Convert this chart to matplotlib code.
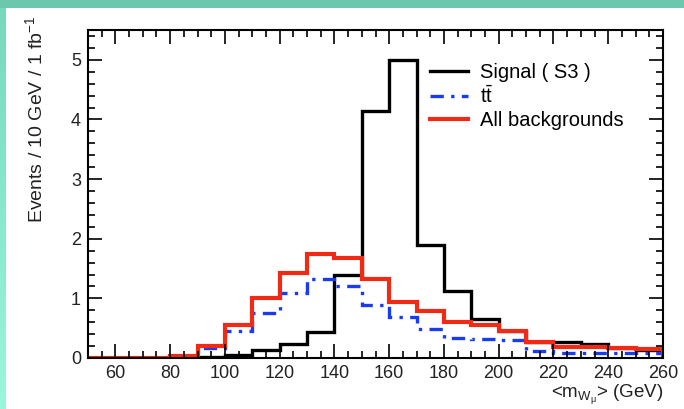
import numpy as np
import matplotlib
matplotlib.use('Agg')
import matplotlib.pyplot as plt
from matplotlib.ticker import MultipleLocator

plt.rcParams['font.family'] = ['Liberation Sans', 'DejaVu Sans']
plt.rcParams['mathtext.fontset'] = 'custom'
plt.rcParams['mathtext.rm'] = 'Liberation Sans'
plt.rcParams['mathtext.it'] = 'Liberation Sans'

## Data : 10 GeV bins from 50 to 260 GeV
edges = np.arange(50, 261, 10)
signal = [0, 0, 0, 0, 0.02, 0.05, 0.13, 0.24, 0.43, 1.40, 4.15, 5.0, 1.90,
          1.13, 0.65, 0.45, 0.27, 0.27, 0.23, 0.17, 0.13]
ttbar = [0, 0, 0, 0.03, 0.16, 0.46, 0.76, 1.09, 1.32, 1.21, 0.89, 0.68, 0.48,
         0.33, 0.32, 0.30, 0.12, 0.09, 0.08, 0.08, 0.08]
allbkg = [0, 0, 0, 0.03, 0.20, 0.55, 1.01, 1.43, 1.74, 1.67, 1.32, 0.94, 0.79,
          0.61, 0.56, 0.45, 0.27, 0.19, 0.18, 0.16, 0.15]
labels = ['Signal ( S3 )', r't$\bar{\rm t}$', 'All backgrounds']

fig = plt.figure(figsize=(6.84, 4.09), dpi=100)

# teal frame of the slide
top = fig.add_axes([0, 1 - 8/409, 1, 8/409])
top.set_axis_off()
top.add_patch(plt.Rectangle((0, 0), 1, 1, color='#6cc8ac', transform=top.transAxes))
side = fig.add_axes([0, 0, 6/684, 1 - 8/409])
grad = np.linspace(0, 1, 100).reshape(-1, 1)
cmap = matplotlib.colors.LinearSegmentedColormap.from_list('mint', ['#9af6dc', '#78d8bc'])
side.imshow(grad, aspect='auto', cmap=cmap, origin='lower', extent=[0, 1, 0, 1])
side.set_axis_off()

ax = fig.add_axes([88/684, 51/409, 575/684, 328/409])

ax.stairs(signal, edges, color='black', lw=2.4, label=labels[0])
ax.stairs(ttbar, edges, color='#1a3cf0', lw=2.4, ls=(0, (4, 2.2, 1, 2.2)), label=labels[1])
ax.stairs(allbkg, edges, color='#f02a14', lw=3.0, label=labels[2])

ax.set_xlim(50, 260)
ax.set_ylim(0, 5.5)
ax.xaxis.set_major_locator(MultipleLocator(20))
ax.xaxis.set_minor_locator(MultipleLocator(5))
ax.yaxis.set_major_locator(MultipleLocator(1))
ax.yaxis.set_minor_locator(MultipleLocator(0.2))
ax.tick_params(which='both', direction='in', top=True, right=True, width=1.2,
               labelsize=13, colors='black', labelcolor='#222222')
ax.tick_params(which='major', length=10, pad=5)
ax.tick_params(which='minor', length=5)
for s in ax.spines.values():
    s.set_linewidth(1.5)

ax.set_ylabel(r'Events / 10 GeV / 1 fb$^{-1}$', fontsize=14, color='#222222', loc='top')
ax.yaxis.set_label_coords(-0.072, 1.046)
ax.set_xlabel(r'<m$_{\rm W_{\mu}}$> (GeV)', fontsize=13.5, color='#222222', loc='right', labelpad=1)

ax.legend(loc='upper left', bbox_to_anchor=(0.58, 0.925), frameon=False, fontsize=14.5,
          handlelength=1.9, handletextpad=0.6, labelspacing=0.18, borderaxespad=0)

fig.savefig('out.png', dpi=100)
